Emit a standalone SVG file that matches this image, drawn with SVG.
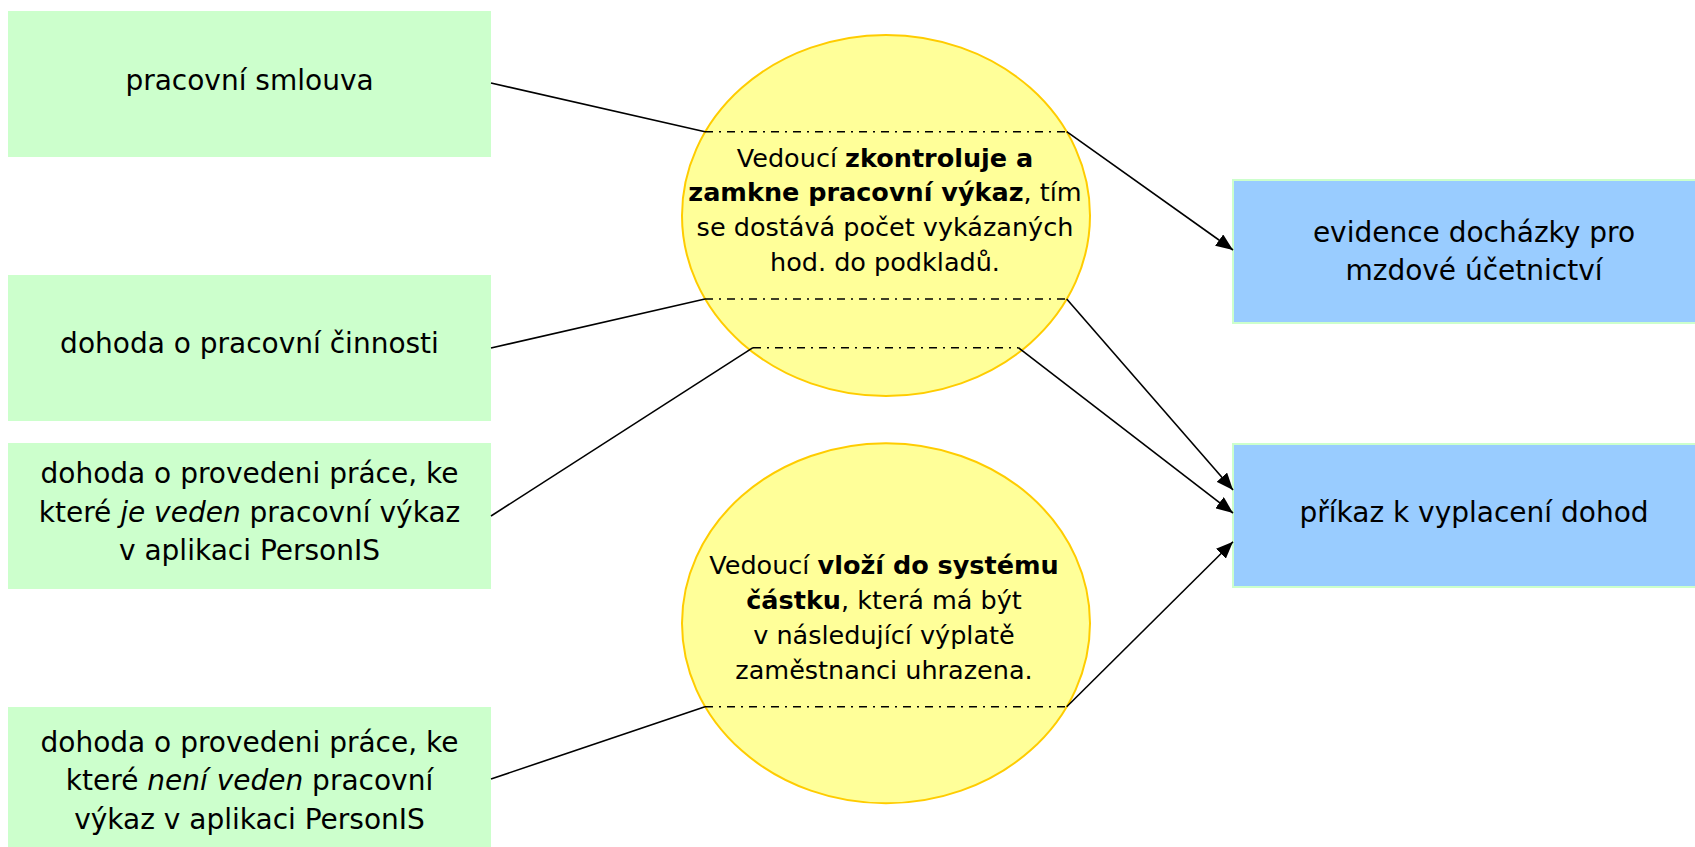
<svg xmlns="http://www.w3.org/2000/svg" width="1695" height="847" viewBox="0 0 1695 847">
  <defs>
    <style>
      .src { fill: #ccffcc; }
      .dst { fill: #99ccff; stroke: #ccffcc; stroke-width: 2; }
      .proc { fill: #ffff99; stroke: #ffcc00; stroke-width: 2; }
      .t { font-family: "DejaVu Sans", Verdana, sans-serif; fill: #000; text-anchor: middle; }
      .box { font-size: 28px; }
      .ell { font-size: 25.5px; }
      .b { font-weight: bold; }
      .i { font-style: italic; }
      .ln { fill: none; stroke: #000; stroke-width: 1.6; }
      .dd { fill: none; stroke: #000; stroke-width: 1.6; stroke-dasharray: 8 6 2 6; }
      .arr { fill: none; stroke: #000; stroke-width: 1.6; marker-end: url(#ah); }
    </style>
    <marker id="ah" markerUnits="userSpaceOnUse" markerWidth="18" markerHeight="14" refX="17" refY="7" orient="auto">
      <path d="M0,0 L17,7 L0,14 Z" fill="#000"/>
    </marker>
  </defs>
  <rect width="1695" height="847" fill="#ffffff"/>

  <g id="n-pracovni-smlouva">
    <rect class="src" x="8" y="11" width="483" height="146"/>
    <text class="t box" x="249.5" y="90">pracovní smlouva</text>
  </g>

  <g id="n-dohoda-cinnost">
    <rect class="src" x="8" y="275" width="483" height="146"/>
    <text class="t box" x="249.5" y="353">dohoda o pracovní činnosti</text>
  </g>

  <g id="n-dpp-s-vykazem">
    <rect class="src" x="8" y="443" width="483" height="146"/>
    <text class="t box" x="249.5" y="483">dohoda o provedeni práce, ke</text>
    <text class="t box" x="249.5" y="522">které <tspan class="i">je veden</tspan> pracovní výkaz</text>
    <text class="t box" x="249.5" y="560">v aplikaci PersonIS</text>
  </g>

  <g id="n-dpp-bez-vykazu">
    <rect class="src" x="8" y="707" width="483" height="150"/>
    <text class="t box" x="249.5" y="752">dohoda o provedeni práce, ke</text>
    <text class="t box" x="249.5" y="790">které <tspan class="i">není veden</tspan> pracovní</text>
    <text class="t box" x="249.5" y="829">výkaz v aplikaci PersonIS</text>
  </g>

  <g id="n-kontrola">
    <ellipse class="proc" cx="886" cy="215.5" rx="204" ry="180.5"/>
    <text class="t ell" x="885" y="167">Vedoucí <tspan class="b">zkontroluje a</tspan></text>
    <text class="t ell" x="885" y="201"><tspan class="b">zamkne pracovní výkaz</tspan>, tím</text>
    <text class="t ell" x="885" y="236">se dostává počet vykázaných</text>
    <text class="t ell" x="885" y="271">hod. do podkladů.</text>
  </g>

  <g id="n-vlozeni">
    <ellipse class="proc" cx="886" cy="623.3" rx="204" ry="180"/>
    <text class="t ell" x="884" y="574">Vedoucí <tspan class="b">vloží do systému</tspan></text>
    <text class="t ell" x="884" y="609"><tspan class="b">částku</tspan>, která má být</text>
    <text class="t ell" x="884" y="644">v následující výplatě</text>
    <text class="t ell" x="884" y="679">zaměstnanci uhrazena.</text>
  </g>

  <g id="n-evidence">
    <rect class="dst" x="1233" y="180" width="481" height="143"/>
    <text class="t box" x="1474" y="242">evidence docházky pro</text>
    <text class="t box" x="1474" y="280">mzdové účetnictví</text>
  </g>

  <g id="n-prikaz">
    <rect class="dst" x="1233" y="444" width="481" height="143"/>
    <text class="t box" x="1474" y="522">příkaz k vyplacení dohod</text>
  </g>

  <g id="connectors">
    <g id="c1">
      <path class="ln" d="M491,83 L705,131.7"/>
      <path class="dd" d="M705,131.7 H1066.7"/>
      <path class="arr" d="M1066.7,131.7 L1233,250"/>
    </g>
    <g id="c2">
      <path class="ln" d="M491,348 L705,299"/>
      <path class="dd" d="M705,299 H1066.7"/>
      <path class="arr" d="M1066.7,299 L1233,490"/>
    </g>
    <g id="c3">
      <path class="ln" d="M491,516 L753,347.7"/>
      <path class="dd" d="M753,347.7 H1018.3"/>
      <path class="arr" d="M1018.3,347.7 L1233,513"/>
    </g>
    <g id="c4">
      <path class="ln" d="M491,779 L705,706.7"/>
      <path class="dd" d="M705,706.7 H1066.7"/>
      <path class="arr" d="M1066.7,706.7 L1233,541.7"/>
    </g>
  </g>
</svg>
